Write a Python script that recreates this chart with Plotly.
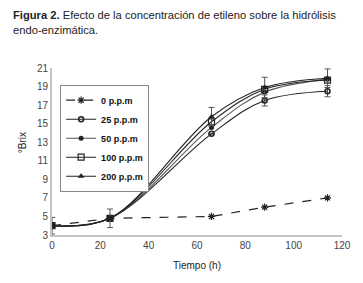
import plotly.graph_objects as go

tiempo = [0, 24, 66, 88, 114]
ppm0 = [4.0, 4.8, 5.0, 6.0, 7.0]
ppm25 = [4.0, 4.8, 13.9, 17.5, 18.5]
ppm50 = [4.0, 4.8, 14.6, 18.4, 19.8]
ppm100 = [4.0, 4.8, 15.2, 18.7, 19.7]
ppm200 = [4.0, 4.8, 15.75, 18.9, 19.9]
err200 = [0.9, 1.0, 1.0, 1.1, 1.0]
err25 = [0, 0, 0, 0.6, 0.6]
labels = ["0 p.p.m", "25 p.p.m", "50 p.p.m", "100 p.p.m", "200 p.p.m"]

fig = go.Figure()
lc = "#222222"
fig.add_trace(go.Scatter(x=tiempo, y=ppm0, name=labels[0], mode="lines+markers",
    line=dict(color=lc, width=1.2, dash="dash"),
    marker=dict(symbol="asterisk-open", size=6, color=lc, line=dict(width=1.2, color=lc))))
fig.add_trace(go.Scatter(x=tiempo, y=ppm25, name=labels[1], mode="lines+markers",
    line=dict(color=lc, width=1.1, shape="spline"),
    error_y=dict(type="data", array=err25, color="#555", thickness=1, width=3),
    marker=dict(symbol="circle-open", size=5, color=lc, line=dict(width=1.5, color=lc))))
fig.add_trace(go.Scatter(x=tiempo, y=ppm50, name=labels[2], mode="lines+markers",
    line=dict(color="#555555", width=1.1, shape="spline"),
    marker=dict(symbol="circle", size=5, color=lc)))
fig.add_trace(go.Scatter(x=tiempo, y=ppm100, name=labels[3], mode="lines+markers",
    line=dict(color=lc, width=1.1, shape="spline"),
    marker=dict(symbol="square-open", size=6, color=lc, line=dict(width=1.2, color=lc))))
fig.add_trace(go.Scatter(x=tiempo, y=ppm200, name=labels[4], mode="lines+markers",
    line=dict(color=lc, width=1.1, shape="spline"),
    error_y=dict(type="data", array=err200, color="#555", thickness=1, width=3),
    marker=dict(symbol="triangle-up", size=6, color=lc)))

fig.update_layout(
    width=347, height=267,
    margin=dict(l=44, r=13, t=60, b=40, autoexpand=False),
    paper_bgcolor="white", plot_bgcolor="white",
    font=dict(family="Liberation Sans, Arial", size=10, color="#333"),
    showlegend=True,
    legend=dict(x=0.028, y=0.9, xanchor="left", yanchor="top",
                bordercolor="#888", borderwidth=1, bgcolor="white",
                font=dict(family="Liberation Sans, Arial", size=9, color="#111", weight="bold"),
                itemwidth=30, tracegroupgap=0),
    xaxis=dict(range=[0, 120], tickvals=[0, 20, 40, 60, 80, 100, 120], automargin=False,
               showgrid=False, zeroline=False, showline=True, linecolor="#c4c4c4", linewidth=2,
               ticks="", tickfont=dict(size=10, color="#444")),
    yaxis=dict(range=[3, 21], tickvals=[3, 5, 7, 9, 11, 13, 15, 17, 19, 21], automargin=False,
               showgrid=False, zeroline=False, showline=True, linecolor="#c4c4c4", linewidth=2,
               ticks="", tickfont=dict(size=10, color="#444")),
)
fig.add_annotation(xref="paper", yref="paper", x=0, y=1, xanchor="left", yanchor="top",
    xshift=-41, yshift=61, showarrow=False, align="left",
    text="<b>Figura 2.</b> Efecto de la concentración de etileno sobre la hidrólisis<br>endo-enzimática.",
    font=dict(family="Liberation Sans", size=11.2, color="#222"))
fig.add_annotation(xref="paper", yref="paper", x=0.5, y=0, xanchor="center", yanchor="middle",
    yshift=-30, showarrow=False, text="Tiempo (h)", font=dict(size=10, color="#222"))
fig.add_annotation(xref="paper", yref="paper", x=0, y=0.55, xanchor="center", yanchor="middle",
    xshift=-30, showarrow=False, text="°Brix", textangle=-90, font=dict(size=10, color="#222"))
fig.write_html("out.html")
